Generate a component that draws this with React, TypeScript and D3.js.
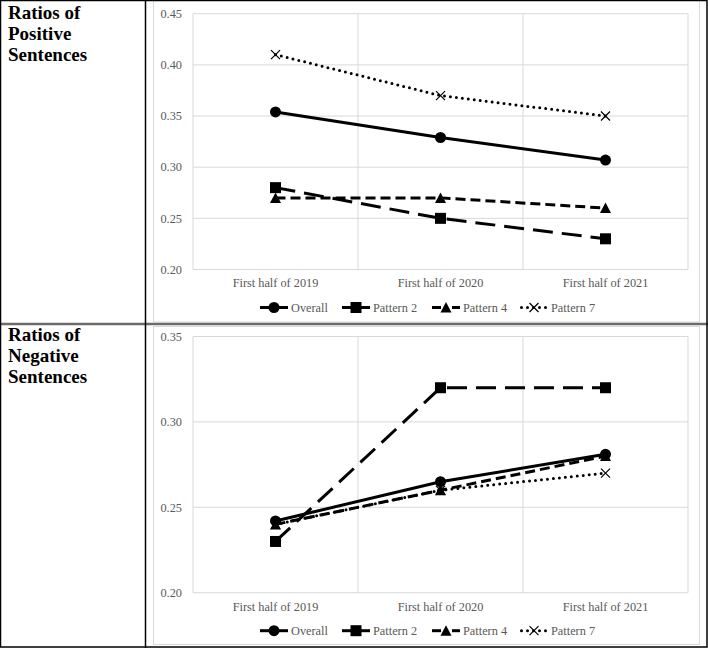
import React from "react";
import * as d3 from "d3";

const categories = ["First half of 2019", "First half of 2020", "First half of 2021"];
const seriesNames = ["Overall", "Pattern 2", "Pattern 4", "Pattern 7"];

const posOverall = [0.354, 0.329, 0.307];
const posPattern2 = [0.28, 0.25, 0.23];
const posPattern4 = [0.27, 0.27, 0.26];
const posPattern7 = [0.41, 0.37, 0.35];

const negOverall = [0.242, 0.265, 0.281];
const negPattern2 = [0.23, 0.32, 0.32];
const negPattern4 = [0.24, 0.26, 0.28];
const negPattern7 = [0.24, 0.26, 0.27];

const posTicks = [0.2, 0.25, 0.3, 0.35, 0.4, 0.45];
const negTicks = [0.2, 0.25, 0.3, 0.35];

const posTitle = ["Ratios of", "Positive", "Sentences"];
const negTitle = ["Ratios of", "Negative", "Sentences"];

const SERIF = "'Liberation Serif', 'Times New Roman', serif";
const GRAY = "#595959";
const GRID = "#d9d9d9";

type Style = { dash: string | null; cap: string; marker: string };
const styles: Style[] = [
  { dash: null, cap: "butt", marker: "circle" },
  { dash: "20,9", cap: "butt", marker: "square" },
  { dash: "10,5", cap: "butt", marker: "triangle" },
  { dash: "0,6", cap: "round", marker: "x" },
];

function Marker({ kind, x, y }: { kind: string; x: number; y: number }) {
  if (kind === "circle") return <circle cx={x} cy={y} r={5.5} fill="#000" />;
  if (kind === "square") return <rect x={x - 5.5} y={y - 5.5} width={11} height={11} fill="#000" />;
  if (kind === "triangle")
    return <path d={`M${x},${y - 5.5} L${x + 5.5},${y + 5} L${x - 5.5},${y + 5} Z`} fill="#000" />;
  return (
    <path
      d={`M${x - 4.5},${y - 4.5} L${x + 4.5},${y + 4.5} M${x + 4.5},${y - 4.5} L${x - 4.5},${y + 4.5}`}
      stroke="#000"
      strokeWidth={1.2}
      fill="none"
    />
  );
}

function LegendSample({ kind, x, y }: { kind: number; x: number; y: number }) {
  const w = 28;
  const st = styles[kind];
  let line: React.ReactNode;
  if (kind === 2) {
    line = (
      <g>
        <line x1={x} x2={x + 9} y1={y} y2={y} stroke="#000" strokeWidth={3} />
        <line x1={x + 20} x2={x + w} y1={y} y2={y} stroke="#000" strokeWidth={3} />
      </g>
    );
  } else if (kind === 3) {
    line = (
      <line x1={x + 1.5} x2={x + w} y1={y} y2={y} stroke="#000" strokeWidth={3} strokeDasharray="0,6" strokeLinecap="round" />
    );
  } else {
    line = <line x1={x} x2={x + w} y1={y} y2={y} stroke="#000" strokeWidth={3} />;
  }
  return (
    <g>
      {line}
      <Marker kind={st.marker} x={x + w / 2} y={y} />
    </g>
  );
}

function Chart({
  top,
  bottom,
  ticks,
  series,
}: {
  top: number;
  bottom: number;
  ticks: number[];
  series: number[][];
}) {
  const left = 193;
  const right = 688;
  const y = d3.scaleLinear().domain([d3.min(ticks)!, d3.max(ticks)!]).range([bottom, top]);
  const xb = d3.scaleBand<string>().domain(categories).range([left, right]).paddingInner(0).paddingOuter(0);
  const xc = (c: string) => (xb(c) as number) + xb.bandwidth() / 2;
  const boundaries = [left, ...categories.slice(1).map((c) => xb(c) as number), right];
  const legendX = [260, 342, 432, 520];
  const legendY = bottom + 38;
  return (
    <g>
      {ticks.map((t) => (
        <g key={t}>
          <line x1={left} x2={right} y1={y(t)} y2={y(t)} stroke={GRID} strokeWidth={1} />
          <text x={182} y={y(t)} dy="0.35em" textAnchor="end" fontFamily={SERIF} fontSize={12.3} fill={GRAY}>
            {t.toFixed(2)}
          </text>
        </g>
      ))}
      {boundaries.map((b, i) => (
        <line key={i} x1={b} x2={b} y1={top} y2={bottom} stroke={GRID} strokeWidth={1} />
      ))}
      {categories.map((c) => (
        <text key={c} x={xc(c)} y={bottom + 13.5} dy="0.35em" textAnchor="middle" fontFamily={SERIF} fontSize={12.3} fill={GRAY}>
          {c}
        </text>
      ))}
      {series.map((vals, si) => {
        const st = styles[si];
        const gen = d3
          .line<number>()
          .x((_, i) => xc(categories[i]))
          .y((v) => y(v));
        return (
          <g key={si}>
            <path
              d={gen(vals) as string}
              fill="none"
              stroke="#000"
              strokeWidth={3}
              strokeDasharray={st.dash ?? undefined}
              strokeLinecap={st.cap as any}
            />
            {vals.map((v, i) => (
              <Marker key={i} kind={st.marker} x={xc(categories[i])} y={y(v)} />
            ))}
          </g>
        );
      })}
      {seriesNames.map((n, i) => (
        <g key={n}>
          <LegendSample kind={i} x={legendX[i]} y={legendY} />
          <text x={legendX[i] + 31} y={legendY} dy="0.35em" fontFamily={SERIF} fontSize={12.3} fill={GRAY}>
            {n}
          </text>
        </g>
      ))}
    </g>
  );
}

function Title({ lines, baseline }: { lines: string[]; baseline: number }) {
  return (
    <text fontFamily={SERIF} fontWeight="bold" fontSize={19} fill="#000">
      {lines.map((l, i) => (
        <tspan key={i} x={8} y={baseline + i * 21}>
          {l}
        </tspan>
      ))}
    </text>
  );
}

export default function App() {
  return (
    <svg
      width={708}
      height={648}
      style={{ position: "absolute", left: 0, top: 0, background: "#fff" }}
    >
      <rect x={0} y={0} width={708} height={648} fill="#fff" />
      {/* chart area outlines */}
      <rect x={153.5} y={-2} width={546} height={324} fill="none" stroke={GRID} strokeWidth={1} />
      <rect x={153.5} y={326.5} width={546} height={318} fill="none" stroke={GRID} strokeWidth={1} />
      <Chart top={13.7} bottom={269.5} ticks={posTicks} series={[posOverall, posPattern2, posPattern4, posPattern7]} />
      <Chart top={336.5} bottom={592.7} ticks={negTicks} series={[negOverall, negPattern2, negPattern4, negPattern7]} />
      <Title lines={posTitle} baseline={18.5} />
      <Title lines={negTitle} baseline={341} />
      {/* table borders */}
      <line x1={0} x2={708} y1={324} y2={324} stroke="#6b6b6b" strokeWidth={2.5} />
      <line x1={145.5} x2={145.5} y1={0} y2={648} stroke="#000" strokeWidth={1.5} />
      <rect x={0.5} y={0.5} width={706.5} height={646.5} fill="none" stroke="#000" strokeWidth={1.5} />
    </svg>
  );
}
